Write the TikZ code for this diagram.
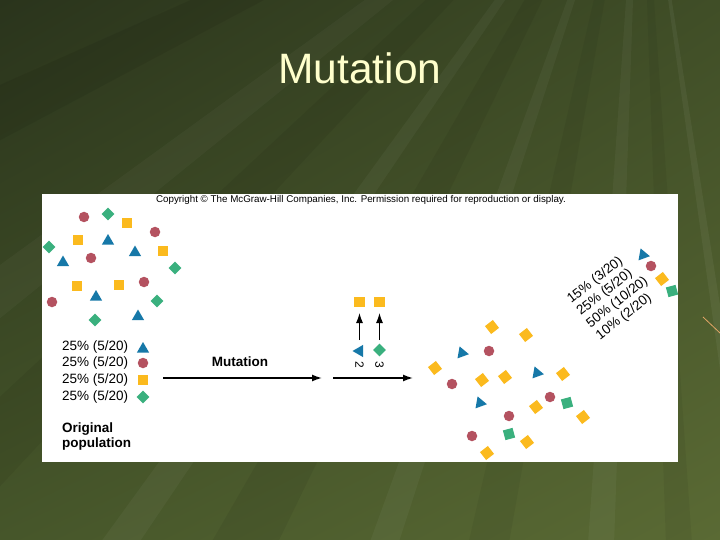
\documentclass[tikz,border=0pt]{standalone}
\usepackage{fontspec}
\setmainfont{Liberation Sans}
\usetikzlibrary{shapes.geometric,arrows.meta,shadings}

\definecolor{bgdark}{RGB}{42,52,28}
\definecolor{bgmid}{RGB}{64,78,39}
\definecolor{bglow}{RGB}{70,86,42}
\definecolor{bglight}{RGB}{90,106,52}
\definecolor{titlecream}{RGB}{255,255,204}
\definecolor{triblue}{RGB}{22,120,168}
\definecolor{dotred}{RGB}{180,82,96}
\definecolor{sqyellow}{RGB}{251,186,30}
\definecolor{diagreen}{RGB}{58,176,126}

\tikzset{
  popTri/.style={regular polygon, regular polygon sides=3, fill=triblue,
    minimum size=14pt, inner sep=0pt},
  popDot/.style={circle, fill=dotred, minimum size=10.5pt, inner sep=0pt},
  popSq/.style={rectangle, fill=sqyellow, minimum size=10.5pt, inner sep=0pt},
  popDia/.style={diamond, fill=diagreen, minimum size=13pt, inner sep=0pt},
  popGsq/.style={rectangle, fill=diagreen, minimum size=10pt, inner sep=0pt, rotate=15},
  pctText/.style={font=\fontsize{13.5}{15}\selectfont, inner sep=0pt},
  mutArrow/.style={line width=1.4pt, -{Latex[length=10pt,width=7pt]}}
}

\begin{document}
\begin{tikzpicture}[x=1pt,y=-1pt]
      \useasboundingbox (0,0) rectangle (720,540);

      % Slide background
      \begin{scope}
        \clip (0,0) rectangle (720,540);
        \shade[upper left=bgdark, upper right=bgmid, lower left=bglow, lower right=bglight]
          (0,0) rectangle (720,540);
        \foreach \a/\b/\c/\o in {152/156/black/0.07, 141/144/white/0.03,
            133/137/black/0.06, 124/126/white/0.04, 116/120/black/0.06,
            108/110/white/0.04, 100/103/black/0.05, 92/94/white/0.04,
            86/88/black/0.05, 81/82/white/0.05}
          \fill[\c, opacity=\o, shift={(640,-200)}] (0,0) -- (\a:1600) -- (\b:1600) -- cycle;
        \draw[brown!60!orange!70!white, line width=0.8pt] (703,317) -- (720,333);
      \end{scope}

      % Title
      \node[text=titlecream, font=\fontsize{42.5}{46}\selectfont] (title) at (360,68) {Mutation};

      % Figure panel
      \fill[white] (42,194) rectangle (678,462);
      \node[font=\fontsize{9.8}{11}\selectfont, inner sep=0pt] (copyright) at (361,199.5)
        {Copyright © The McGraw-Hill Companies, Inc. Permission required for reproduction or display.};

      % Original population
      \foreach \x/\y [count=\i] in {84/217, 155/232, 91/258, 144/282, 52/302}
        \node[popDot] (oDot\i) at (\x,\y) {};
      \foreach \x/\y [count=\i] in {108/214, 49/247, 175/268, 157/301, 95/320}
        \node[popDia] (oDia\i) at (\x,\y) {};
      \foreach \x/\y [count=\i] in {127/223, 78/240, 163/251, 77/286, 119/285}
        \node[popSq] (oSq\i) at (\x,\y) {};
      \foreach \x/\y [count=\i] in {108/241, 135/252.5, 63/262.5, 96/297, 138/316.5}
        \node[popTri] (oTri\i) at (\x,\y) {};

      % Original frequencies
      \foreach \y [count=\i] in {347,363,380,397}
        \node[pctText, anchor=west] (oPct\i) at (62,\y) {25\% (5/20)};
      \node[popTri] (oKeyTri) at (143,349) {};
      \node[popDot] (oKeyDot) at (143,363) {};
      \node[popSq] (oKeySq) at (143,380) {};
      \node[popDia] (oKeyDia) at (143,397) {};
      \node[pctText, font=\fontsize{13.5}{15}\selectfont\bfseries, anchor=base west]
        (origA) at (62,432) {Original};
      \node[pctText, font=\fontsize{13.5}{15}\selectfont\bfseries, anchor=base west]
        (origB) at (62,447) {population};

      % Mutation arrows
      \coordinate (mutA) at (163,378);
      \coordinate (mutB) at (322,378);
      \coordinate (mutC) at (333,378);
      \coordinate (mutD) at (413,378);
      \draw[mutArrow] (mutA) -- (mutB);
      \draw[mutArrow] (mutC) -- (mutD);
      \node[pctText, font=\fontsize{13.5}{15}\selectfont\bfseries] (mutLabel) at (240,362) {Mutation};

      % Mutated individuals
      \node[popSq] (mSqA) at (359.5,302) {};
      \node[popSq] (mSqB) at (379.5,302) {};
      \node[popTri, rotate=90] (mTri) at (359.5,351) {};
      \node[popDia] (mDia) at (379.5,350) {};
      \draw[mutArrow, line width=1.2pt, shorten <=11pt, shorten >=11pt] (mTri.center) -- (mSqA.center);
      \draw[mutArrow, line width=1.2pt, shorten <=10pt, shorten >=11pt] (mDia.center) -- (mSqB.center);
      \node[font=\fontsize{12}{13}\selectfont, rotate=-90, inner sep=0pt] (numTwo) at (359.5,364.5) {2};
      \node[font=\fontsize{12}{13}\selectfont, rotate=-90, inner sep=0pt] (numThree) at (379.5,364.5) {3};

      % New population
      \foreach \x/\y [count=\i] in {492/327, 526/335, 435/368, 482/380, 505/377,
          563/374, 536/407, 583/417, 527/442, 487/453}
        \node[popSq, minimum size=10pt, rotate=38] (nSq\i) at (\x,\y) {};
      \foreach \x/\y [count=\i] in {489/351, 452/384, 550/397, 509/416, 472/436}
        \node[popDot] (nDot\i) at (\x,\y) {};
      \foreach \x/\y [count=\i] in {462/353, 537/373, 480/403}
        \node[popTri, rotate=-100] (nTri\i) at (\x,\y) {};
      \foreach \x/\y [count=\i] in {567/403, 509/434}
        \node[popGsq] (nGsq\i) at (\x,\y) {};

      % New frequencies
      \node[pctText, rotate=38, anchor=west] (nPct1) at (569,301) {15\% (3/20)};
      \node[pctText, rotate=38, anchor=west] (nPct2) at (578.6,313.2) {25\% (5/20)};
      \node[pctText, rotate=38, anchor=west] (nPct3) at (588.2,325.4) {50\% (10/20)};
      \node[pctText, rotate=38, anchor=west] (nPct4) at (597.8,337.6) {10\% (2/20)};
      \node[popTri, rotate=-100] (nKeyTri) at (643,255) {};
      \node[popDot] (nKeyDot) at (651,266) {};
      \node[popSq, minimum size=10pt, rotate=38] (nKeySq) at (662,279) {};
      \node[popGsq] (nKeyGsq) at (672,291) {};
\end{tikzpicture}
\end{document}
